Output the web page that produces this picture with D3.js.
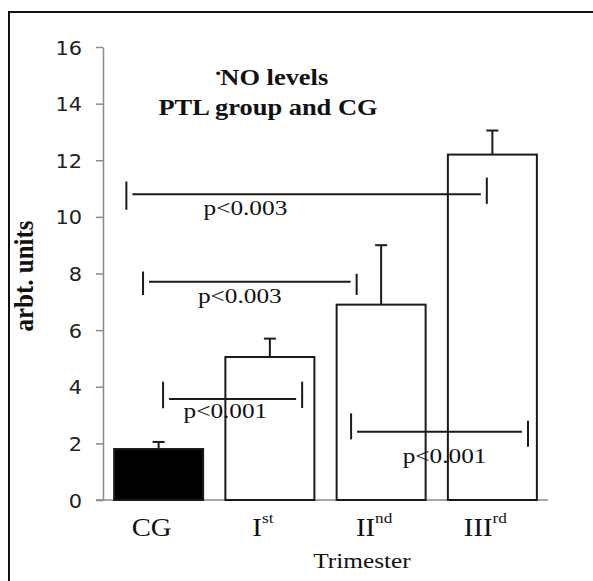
<!DOCTYPE html>
<html lang="en">
	<head>
		<meta charset="UTF-8" />
		<title>NO levels PTL group and CG</title>
		<script src="https://d3js.org/d3.v7.min.js"></script>
		<style>
			body {
				margin: 0;
				background: #fff;
			}
			.serif {
				font-family: "Liberation Serif", "Times New Roman", serif;
				fill: #111;
			}
			.tick text {
				font-family: "DejaVu Sans", Verdana, sans-serif;
				font-size: 19px;
				fill: #222;
			}
		</style>
	</head>
	<body>
		<svg width="593" height="581"></svg>

		<script>
			const width = 593;
			const height = 581;

			// data
			const categories = ["CG", "I", "II", "III"];
			const suffixes = ["", "st", "nd", "rd"];
			const means = [1.8, 5.05, 6.9, 12.2];
			const errors = [0.25, 0.65, 2.1, 0.85];
			const yTicks = [0, 2, 4, 6, 8, 10, 12, 14, 16];

			// significance brackets: ends in category index units, heights in arbt. units
			const brackets = [
				{ label: "p<0.003", x1: -0.29, x2: 2.95, y: 10.8, left: [10.25, 11.25], right: [10.46, 11.39], lx: 0.78, ly: 10.05 },
				{ label: "p<0.003", x1: -0.14, x2: 1.78, y: 7.71, left: [7.24, 8.07], right: [7.24, 7.99], lx: 0.73, ly: 6.96 },
				{ label: "p<0.001", x1: 0.04, x2: 1.29, y: 3.57, left: [3.24, 4.18], right: [3.25, 4.18], lx: 0.6, ly: 2.9 },
				{ label: "p<0.001", x1: 1.73, x2: 3.32, y: 2.41, left: [2.14, 3.06], right: [1.88, 2.8], lx: 2.57, ly: 1.3 },
			];

			const stretch = 1.15; // serif text in the original is a little wide

			const svg = d3.select("svg");

			// outer frame (only top and left edges are inside the picture)
			svg
				.append("rect")
				.attr("x", 9)
				.attr("y", 12)
				.attr("width", width + 20)
				.attr("height", height + 20)
				.attr("fill", "none")
				.attr("stroke", "#111")
				.attr("stroke-width", 2);

			const x = d3
				.scaleBand()
				.domain(categories)
				.range([103, 548])
				.paddingInner(0.2)
				.paddingOuter(0.1);

			const y = d3.scaleLinear().domain([0, 16]).range([500, 47]);

			// category index -> pixel, for the brackets
			const xi = d3
				.scaleLinear()
				.domain([0, 1])
				.range([x(categories[0]) + x.bandwidth() / 2, x(categories[1]) + x.bandwidth() / 2]);

			function stretchedText(g, px, py, size, weight) {
				return g
					.append("text")
					.attr("class", "serif")
					.attr("transform", `translate(${px},${py}) scale(${stretch},1)`)
					.attr("text-anchor", "middle")
					.style("font-size", size + "px")
					.style("font-weight", weight || "normal");
			}

			// y axis
			const yAxis = svg
				.append("g")
				.attr("transform", "translate(103,0)")
				.call(d3.axisLeft(y).tickValues(yTicks).tickSize(7).tickSizeOuter(0));
			yAxis.select(".domain").attr("stroke", "#8a8a8a").attr("stroke-width", 1.5);
			yAxis.selectAll(".tick line").attr("stroke", "#8a8a8a").attr("stroke-width", 1.5);
			yAxis
				.selectAll(".tick text")
				.attr("x", 0)
				.attr("dy", "0.37em")
				.attr("transform", "translate(-21,0) scale(1.1,1)");

			// x axis line
			svg
				.append("line")
				.attr("x1", x.range()[0] - 7)
				.attr("x2", x.range()[1])
				.attr("y1", y(0))
				.attr("y2", y(0))
				.attr("stroke", "#8a8a8a")
				.attr("stroke-width", 1.5);

			// title
			const t1 = stretchedText(svg, 271, 85, 23, "bold");
			t1.append("tspan").attr("dy", 3).text("\u02D9");
			t1.append("tspan").attr("dy", -3).attr("dx", -2).text("NO levels");
			stretchedText(svg, 268, 115, 23, "bold").text("PTL group and CG");

			// y label
			svg
				.append("text")
				.attr("class", "serif")
				.attr("transform", "translate(33,276) rotate(-90) scale(1,1.1)")
				.attr("text-anchor", "middle")
				.style("font-size", "25px")
				.style("font-weight", "bold")
				.text("arbt. units");

			// x labels
			categories.forEach((c, i) => {
				const t = stretchedText(svg, x(c) + x.bandwidth() / 2 - 7, 536, 25);
				t.append("tspan").text(c);
				if (suffixes[i]) {
					t.append("tspan").attr("dy", -13).style("font-size", "15px").text(suffixes[i]);
				}
			});
			stretchedText(svg, 362, 568, 22).text("Trimester");

			// bars
			svg
				.append("g")
				.selectAll("rect")
				.data(means)
				.join("rect")
				.attr("x", (d, i) => x(categories[i]))
				.attr("y", (d) => y(d))
				.attr("width", x.bandwidth())
				.attr("height", (d) => y(0) - y(d))
				.attr("fill", (d, i) => (i === 0 ? "#000" : "#fff"))
				.attr("stroke", "#1a1a1a")
				.attr("stroke-width", 2);

			// error bars
			const err = svg
				.append("g")
				.attr("stroke", "#1a1a1a")
				.attr("stroke-width", 2)
				.selectAll("g")
				.data(means)
				.join("g");
			err
				.append("line")
				.attr("x1", (d, i) => x(categories[i]) + x.bandwidth() / 2)
				.attr("x2", (d, i) => x(categories[i]) + x.bandwidth() / 2)
				.attr("y1", (d) => y(d))
				.attr("y2", (d, i) => y(d + errors[i]));
			err
				.append("line")
				.attr("x1", (d, i) => x(categories[i]) + x.bandwidth() / 2 - 6)
				.attr("x2", (d, i) => x(categories[i]) + x.bandwidth() / 2 + 6)
				.attr("y1", (d, i) => y(d + errors[i]))
				.attr("y2", (d, i) => y(d + errors[i]));

			// bracket labels, above the bars
			svg
				.append("g")
				.selectAll("g")
				.data(brackets)
				.join("g")
				.each(function (d) {
					stretchedText(d3.select(this), xi(d.lx), y(d.ly), 22).text(d.label);
				});

			// brackets
			const br = svg
				.append("g")
				.attr("stroke", "#1a1a1a")
				.attr("stroke-width", 2)
				.selectAll("g")
				.data(brackets)
				.join("g");
			br
				.append("line")
				.attr("x1", (d) => xi(d.x1) + 6)
				.attr("x2", (d) => xi(d.x2) - 6)
				.attr("y1", (d) => y(d.y))
				.attr("y2", (d) => y(d.y));
			br
				.append("line")
				.attr("x1", (d) => xi(d.x1))
				.attr("x2", (d) => xi(d.x1))
				.attr("y1", (d) => y(d.left[0]))
				.attr("y2", (d) => y(d.left[1]));
			br
				.append("line")
				.attr("x1", (d) => xi(d.x2))
				.attr("x2", (d) => xi(d.x2))
				.attr("y1", (d) => y(d.right[0]))
				.attr("y2", (d) => y(d.right[1]));
		</script>
	</body>
</html>
